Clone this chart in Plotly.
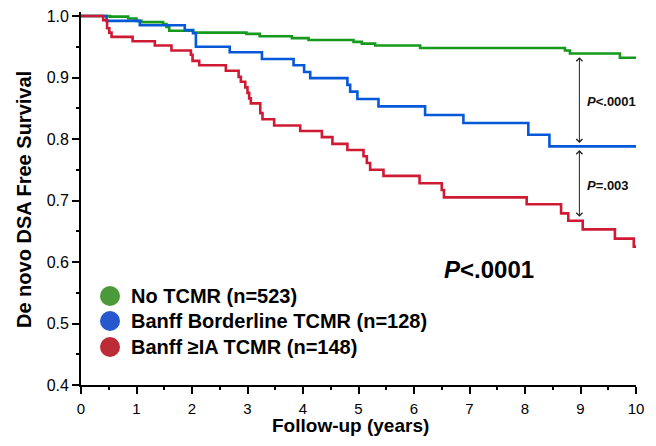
import plotly.graph_objects as go

# ---------------- data ----------------
group_names = ["No TCMR (n=523)", "Banff Borderline TCMR (n=128)", "Banff \u2265IA TCMR (n=148)"]

no_tcmr_years = [0, 0.52, 0.85, 1.00, 1.09, 1.48, 1.54, 1.59, 2.02, 2.98, 3.22, 3.80, 4.10,
                 4.91, 5.06, 5.30, 6.11, 8.72, 8.81, 9.71, 10.0]
no_tcmr_surv = [1.0, 0.999, 0.996, 0.992, 0.990, 0.987, 0.982, 0.976, 0.973, 0.971, 0.967, 0.964,
                0.961, 0.958, 0.955, 0.952, 0.948, 0.944, 0.939, 0.932, 0.932]

borderline_years = [0, 0.46, 1.06, 1.87, 2.02, 2.07, 2.68, 3.26, 3.83, 4.02, 4.13, 4.80, 4.85,
                    4.98, 5.36, 6.20, 6.89, 8.06, 8.44, 10.0]
borderline_surv = [1.0, 0.992, 0.985, 0.977, 0.972, 0.950, 0.941, 0.930, 0.920, 0.909, 0.899,
                   0.888, 0.877, 0.865, 0.853, 0.839, 0.826, 0.807, 0.788, 0.788]

ia_years = [0, 0.40, 0.47, 0.51, 0.55, 0.93, 1.33, 1.63, 1.98, 2.01, 2.13, 2.61, 2.84, 2.88,
            2.96, 3.00, 3.03, 3.06, 3.23, 3.27, 3.48, 3.95, 4.34, 4.53, 4.80, 5.09, 5.15, 5.21,
            5.45, 6.10, 6.50, 6.54, 8.03, 8.65, 8.78, 9.04, 9.62, 9.96, 10.0]
ia_surv = [1.0, 0.993, 0.980, 0.973, 0.966, 0.959, 0.952, 0.944, 0.937, 0.927, 0.920, 0.911,
           0.901, 0.893, 0.884, 0.875, 0.866, 0.858, 0.842, 0.832, 0.822, 0.813, 0.803, 0.792,
           0.782, 0.772, 0.761, 0.750, 0.740, 0.728, 0.717, 0.705, 0.694, 0.679, 0.667, 0.653,
           0.638, 0.625, 0.625]

x_ticks = [0, 1, 2, 3, 4, 5, 6, 7, 8, 9, 10]
y_ticks = [0.4, 0.5, 0.6, 0.7, 0.8, 0.9, 1.0]
y_tick_labels = ["0.4", "0.5", "0.6", "0.7", "0.8", "0.9", "1.0"]
x_title = "Follow-up (years)"
y_title = "De novo DSA Free Survival"

# pairwise comparisons at 9 years: (time, upper survival, lower survival, label)
cmp_time = 8.98
cmp_upper = [0.933, 0.782]
cmp_lower = [0.791, 0.671]
cmp_labels = ["<b><i>P</i><.0001</b>", "<b><i>P</i>=.003</b>"]
cmp_label_y = [0.861, 0.725]
overall_p = "<b><i>P</i><.0001</b>"

# ---------------- styles ----------------
line_colors = ["#16991c", "#0558d8", "#cf1a33"]
legend_colors = ["#4a9a3a", "#2558cc", "#bd2b36"]
FONT = "Liberation Sans, Arial, Helvetica, sans-serif"

fig = go.Figure()
series = [(no_tcmr_years, no_tcmr_surv), (borderline_years, borderline_surv), (ia_years, ia_surv)]
for (xs, ys), name, col in zip(series, group_names, line_colors):
    fig.add_trace(go.Scatter(x=xs, y=ys, mode="lines", name=name, line=dict(color=col, width=2.6, shape="hv"),
                             showlegend=False, hoverinfo="skip"))

# page body margin is removed (post_script), so figure pixels == page pixels
Y_TOP = 1.0065   # axis line extends a few pixels above 1.0, as in the reference
PLOT_LEFT, PLOT_RIGHT, PLOT_TOP, PLOT_BOTTOM = 81, 636, 12, 385
W, H = 656, 446
L, T, R, B = PLOT_LEFT, PLOT_TOP, W - PLOT_RIGHT, H - PLOT_BOTTOM
pw, ph = PLOT_RIGHT - PLOT_LEFT, PLOT_BOTTOM - PLOT_TOP

def px_to_paper_x(px):
    return (px - PLOT_LEFT) / pw

def px_to_paper_y(py):
    return (PLOT_BOTTOM - py) / ph

annotations = []
shapes = []

# manual legend (circles + bold text)
legend_y_px = [296, 321, 347]
for name, col, ypx in zip(group_names, legend_colors, legend_y_px):
    yp = px_to_paper_y(ypx)
    shapes.append(dict(type="circle", xref="paper", yref="paper", xsizemode="pixel", ysizemode="pixel",
                       xanchor=px_to_paper_x(110), yanchor=yp, x0=-10, x1=10, y0=-10, y1=10,
                       fillcolor=col, line=dict(width=0)))
    annotations.append(dict(xref="paper", yref="paper", x=px_to_paper_x(129), y=yp, xanchor="left",
                            yanchor="middle", text="<b>" + name + "</b>", showarrow=False,
                            font=dict(family=FONT, size=20, color="black")))

# comparison arrows and labels
for up, lo, lab, ly in zip(cmp_upper, cmp_lower, cmp_labels, cmp_label_y):
    annotations.append(dict(x=cmp_time, y=up, ax=cmp_time, ay=lo, xref="x", yref="y", axref="x", ayref="y",
                            text="", showarrow=True, arrowhead=4, startarrowhead=4, arrowside="end+start",
                            arrowsize=1.2, startarrowsize=1.2, arrowwidth=1, arrowcolor="#222222",
                            standoff=0, startstandoff=0))
    annotations.append(dict(x=cmp_time + 0.1, y=ly, xref="x", yref="y", xanchor="left", yanchor="middle",
                            text=lab, showarrow=False, font=dict(family=FONT, size=13, color="#111111")))

annotations.append(dict(xref="paper", yref="paper", x=px_to_paper_x(442), y=px_to_paper_y(269),
                        xanchor="left", yanchor="middle", text=overall_p, showarrow=False,
                        font=dict(family=FONT, size=24, color="black")))

# axis titles (placed as annotations for precise positioning)
annotations.append(dict(xref="paper", yref="paper", x=px_to_paper_x(350), y=px_to_paper_y(425),
                        xanchor="center", yanchor="middle", text="<b>" + x_title + "</b>", showarrow=False,
                        font=dict(family=FONT, size=19, color="black")))
annotations.append(dict(xref="paper", yref="paper", x=px_to_paper_x(24), y=px_to_paper_y(200),
                        xanchor="center", yanchor="middle", textangle=-90, text="<b>" + y_title + "</b>",
                        showarrow=False, font=dict(family=FONT, size=20, color="black")))

fig.update_layout(
    width=W, height=H,
    margin=dict(l=L, r=R, t=T, b=B, autoexpand=False),
    paper_bgcolor="white", plot_bgcolor="white",
    font=dict(family=FONT, color="black"),
    annotations=annotations, shapes=shapes,
    showlegend=False,
)
fig.update_xaxes(
    range=[0, 10], tickvals=x_ticks, ticks="outside", ticklen=7, tickwidth=1.5, tickcolor="black",
    showline=True, linecolor="black", linewidth=1.8, showgrid=False, zeroline=False, automargin=False,
    tickfont=dict(family=FONT, size=15, color="black"), ticklabelstandoff=2,
    minor=dict(dtick=0.5, tick0=0, ticks="outside", ticklen=3.5, tickwidth=1.5, tickcolor="black"),
)
fig.update_yaxes(
    range=[0.4, Y_TOP], tickvals=y_ticks, ticktext=y_tick_labels, ticks="outside", ticklen=7, tickwidth=1.5,
    tickcolor="black", showline=True, linecolor="black", linewidth=1.8, showgrid=False, zeroline=False,
    automargin=False, tickfont=dict(family=FONT, size=16, color="black"), ticklabeloverflow="allow",
    minor=dict(tickvals=[0.45, 0.55, 0.65, 0.75, 0.85, 0.95], ticks="outside", ticklen=3.5, tickwidth=1.5,
               tickcolor="black"),
)

fig.write_html("out.html", config={"displayModeBar": False},
               post_script="document.body.style.margin='0px';")
